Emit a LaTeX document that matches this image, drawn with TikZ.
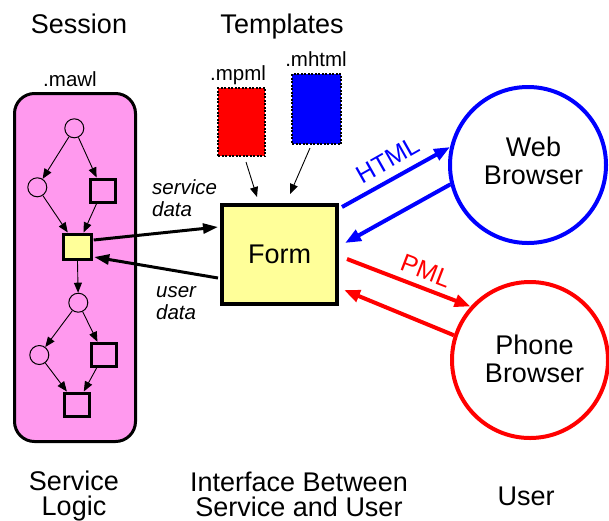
\documentclass[tikz,border=0pt]{standalone}
\usepackage{fontspec}
\setmainfont{Liberation Sans}
\usetikzlibrary{positioning,arrows.meta,calc}
\definecolor{mwPink}{RGB}{255,153,238}
\definecolor{mwYellow}{RGB}{255,255,153}
\definecolor{mwRed}{RGB}{255,0,0}
\definecolor{mwBlue}{RGB}{0,0,255}
\tikzset{
    base/.style={font=\fontsize{27}{28}\selectfont, align=center, inner sep=0pt},
    footer/.style={base, font=\fontsize{27}{25.5}\selectfont},
    tag/.style={font=\fontsize{20.5}{22}\selectfont, inner sep=0pt},
    note/.style={font=\fontsize{20.5}{22}\selectfont\itshape, align=left, inner sep=0pt},
    session/.style={rectangle, rounded corners=20pt, draw, line width=3pt, fill=mwPink,
                    minimum width=121pt, minimum height=348pt},
    state/.style={circle, draw, line width=1pt, fill=mwPink, minimum size=19pt, inner sep=0pt},
    page/.style={rectangle, draw, line width=3pt, fill=mwPink, minimum width=25pt,
                 minimum height=23pt, inner sep=0pt},
    current/.style={page, fill=mwYellow, minimum width=28pt, minimum height=25pt},
    template/.style={rectangle, draw, line width=2pt, dash pattern=on 2pt off 1.5pt,
                     minimum width=47pt, minimum height=68pt},
    form/.style={base, rectangle, draw, line width=4pt, fill=mwYellow,
                 minimum width=115pt, minimum height=99pt},
    browser/.style={circle, line width=4pt, fill=white, minimum size=156pt},
    edge/.style={-{Triangle[length=10pt,width=8pt]}, line width=0.9pt},
    flow/.style={-{Triangle[length=15pt,width=10pt]}, line width=3pt},
    wire/.style={-{Triangle[length=16pt,width=12pt]}, line width=4pt}
}
\begin{document}
\begin{tikzpicture}[x=1pt, y=-1pt]
  \useasboundingbox (0,0) rectangle (609,520);

  % Headings
  \node[base, anchor=base] (sessionhead) at (79,33) {Session};
  \node[base, anchor=base] (templatehead) at (282,33) {Templates};

  % Service logic
  \node[tag, anchor=base] (mawl) at (70,86) {.mawl};
  \node[session] (box) at (75,267.5) {};
  \node[state] (c1) at (74.3,128.3) {};
  \node[state] (c2) at (37.3,187.3) {};
  \node[page] (s1) at (102.5,190.5) {};
  \node[current] (ysq) at (77.2,246.5) {};
  \node[state] (c3) at (78.3,302.7) {};
  \node[state] (c4) at (39.3,355) {};
  \node[page] (s2) at (103.8,354.8) {};
  \node[page] (s3) at (76.7,404.5) {};
  \draw[edge] (c1) -- (c2);
  \draw[edge] (c1) -- (s1);
  \draw[edge] (c2) -- (ysq);
  \draw[edge] (s1) -- (ysq);
  \draw[edge] (ysq) -- (c3);
  \draw[edge] (c3) -- (c4);
  \draw[edge] (c3) -- (s2);
  \draw[edge] (c4) -- (s3);
  \draw[edge] (s2) -- (s3);

  % Templates
  \node[tag, anchor=base] (mpmltag) at (238,80.7) {.mpml};
  \node[tag, anchor=base] (mhtmltag) at (316,66.7) {.mhtml};
  \node[template, fill=mwRed] (mpml) at (241.5,122) {};
  \node[template, fill=mwBlue, minimum width=49pt, minimum height=70pt] (mhtml) at (316.5,109) {};

  % Form
  \node[form] (form) at (279.5,254.5) {Form};
  \draw[edge] ($(mpml.south)+(4.5,5)$) -- ($(form.north)+(-22.5,-6)$);
  \draw[edge] ($(mhtml.south)+(-6.5,3)$) -- ($(form.north)+(10.5,-9)$);
  \draw[flow] ($(ysq.east)+(1,-6.5)$) -- ($(form.west)+(-2,-27.5)$);
  \draw[flow] ($(form.west)+(-2,23.5)$) -- ($(ysq.east)+(1.5,10.5)$);
  \node[note, anchor=west] (service) at (152,198.5) {service\\data};
  \node[note, anchor=west] (user) at (156,303.5) {user\\data};

  % Browsers
  \node[browser, draw=mwBlue] (web) at (528,165) {};
  \node[base] (webtext) at ($(web)+(5.5,-4)$) {Web\\Browser};
  \node[browser, draw=mwRed] (phone) at (530,360) {};
  \node[base] (phonetext) at ($(phone)+(4.5,-1.5)$) {Phone\\Browser};
  \draw[wire, mwBlue] ($(form.east)+(3,-47.5)$) -- (web.167);
  \draw[wire, mwBlue] (web.194) -- ($(form.east)+(6,-11.5)$);
  \draw[wire, mwRed] ($(form.east)+(8,4.5)$) -- (phone.138);
  \draw[wire, mwRed] (phone.162) -- ($(form.east)+(5,35.5)$);
  \node[base, mwBlue, font=\fontsize{25}{27}\selectfont, rotate=29.5] (html) at (388,160) {HTML};
  \node[base, mwRed, font=\fontsize{25}{27}\selectfont, rotate=-21] (pml) at (426,271) {PML};

  % Footers
  \node[footer] (logic) at (74,496) {Service\\Logic};
  \node[footer] (iface) at (299,494.5) {Interface Between\\Service and User};
  \node[footer, anchor=base] (userhead) at (526,505) {User};
\end{tikzpicture}
\end{document}
